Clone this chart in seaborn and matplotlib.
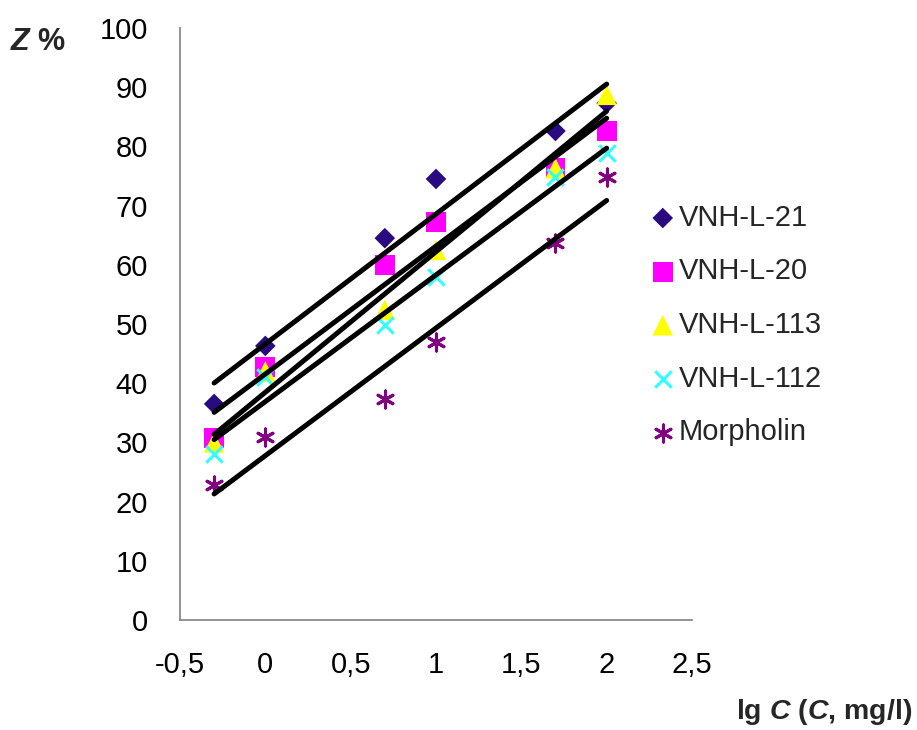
import numpy as np
import pandas as pd
import matplotlib
matplotlib.use("Agg")
import matplotlib.pyplot as plt
import seaborn as sns

# ---- data ----
lgC = [-0.3, 0.0, 0.7, 1.0, 1.7, 2.0]
vnh_l_21 = [36.5, 46.3, 64.5, 74.5, 82.6, 87.3]
vnh_l_20 = [30.7, 42.7, 60.0, 67.2, 76.3, 82.6]
vnh_l_113 = [30.0, 42.0, 52.4, 62.5, 76.3, 88.7]
vnh_l_112 = [28.0, 41.0, 49.8, 58.0, 74.8, 78.9]
morpholin = [22.8, 30.9, 37.3, 47.0, 63.7, 74.8]

series_names = ["VNH-L-21", "VNH-L-20", "VNH-L-113", "VNH-L-112", "Morpholin"]
series_values = [vnh_l_21, vnh_l_20, vnh_l_113, vnh_l_112, morpholin]

x_ticks = [-0.5, 0.0, 0.5, 1.0, 1.5, 2.0, 2.5]
x_tick_labels = ["-0,5", "0", "0,5", "1", "1,5", "2", "2,5"]
y_ticks = [0, 10, 20, 30, 40, 50, 60, 70, 80, 90, 100]
y_tick_labels = ["0", "10", "20", "30", "40", "50", "60", "70", "80", "90", "100"]

# ---- style ----
sns.set_theme(style="white")
plt.rcParams["font.family"] = ["Liberation Sans", "DejaVu Sans"]
plt.rcParams["mathtext.fontset"] = "custom"
plt.rcParams["mathtext.rm"] = "Liberation Sans:bold"
plt.rcParams["mathtext.bf"] = "Liberation Sans:bold"
plt.rcParams["mathtext.it"] = "Liberation Sans:italic:bold"
plt.rcParams["mathtext.bfit"] = "Liberation Sans:italic:bold"

colors = ["#2A0A80", "#FF00FF", "#FFFF00", "#33FFFF", "#800080"]
markers = ["D", "s", "^", "x", (6, 2, 0)]
sizes = [110, 205, 215, 140, 150]
lws = [0, 0, 0, 2.2, 2.2]

fig = plt.figure(figsize=(9.17, 7.30), dpi=100)
ax = fig.add_axes([180 / 917, 110 / 730, 512 / 917, 592 / 730])

rows = []
for name, vals in zip(series_names, series_values):
    for xv, yv in zip(lgC, vals):
        rows.append({"lgC": xv, "Z": yv, "series": name})
df = pd.DataFrame(rows)

# regression lines (linear trendlines)
for name in series_names:
    sub = df[df["series"] == name]
    sns.regplot(data=sub, x="lgC", y="Z", ax=ax, scatter=False, ci=None,
                truncate=True, color="black",
                line_kws={"lw": 3.6, "solid_capstyle": "round", "zorder": 3})

# scatter points
for name, c, m, s, lw in zip(series_names, colors, markers, sizes, lws):
    sub = df[df["series"] == name]
    kw = {}
    if lw == 0:
        kw["edgecolor"] = "none"
    sns.scatterplot(data=sub, x="lgC", y="Z", ax=ax, marker=m, color=c, s=s,
                    linewidth=lw, label=name, zorder=2, **kw)

ax.set_xlim(-0.5, 2.5)
ax.set_ylim(0, 100)
ax.set_xticks(x_ticks)
ax.set_xticklabels(x_tick_labels)
ax.set_yticks(y_ticks)
ax.set_yticklabels(y_tick_labels)
ax.set_xlabel("")
ax.set_ylabel("")

for side in ["top", "right"]:
    ax.spines[side].set_visible(False)
for side in ["left", "bottom"]:
    ax.spines[side].set_color("#8a8a8a")
    ax.spines[side].set_linewidth(1.3)

ax.tick_params(axis="both", direction="in", length=7, width=1.3,
               color="#8a8a8a", labelsize=21, labelcolor="black")
ax.tick_params(axis="x", pad=22)
ax.tick_params(axis="y", pad=23)
ax.grid(False)

leg = ax.legend(loc="center left", bbox_to_anchor=(654 / 917, 1 - 325 / 730),
                bbox_transform=fig.transFigure, frameon=False, fontsize=21,
                handlelength=0.6, handletextpad=0.25, labelspacing=0.88,
                borderpad=0, borderaxespad=0)

fig.text(10 / 917, 1 - 42 / 730, r"$\mathbfit{Z}$ %", fontsize=22,
         fontweight="bold", ha="left", va="center")
fig.text(912 / 917, 1 - 712 / 730, r"lg $\mathbfit{C}$ ($\mathbfit{C}$, mg/l)",
         fontsize=20.5, fontweight="bold", ha="right", va="center")

fig.savefig("out.png", dpi=100, facecolor="white")
